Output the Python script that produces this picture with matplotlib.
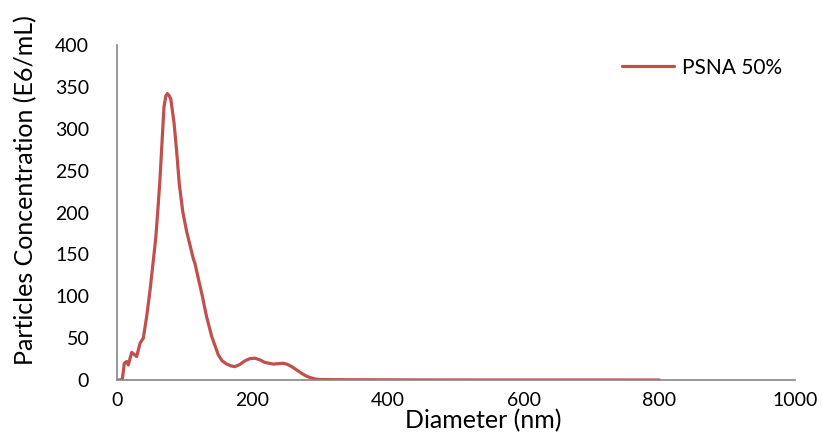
import matplotlib
matplotlib.use("Agg")
import matplotlib.pyplot as plt

plt.rcParams['font.family'] = ['Lato', 'DejaVu Sans']

diameter = [0, 5, 7.8, 10.8, 14.3, 16.7, 21.7, 29, 34, 38.8, 43.8, 48.7, 53.6, 57, 60, 63.4,
            66, 69.3, 72, 74.2, 76.5, 79.2, 84, 88, 92, 97, 102.8, 108, 112.5, 115, 120, 125,
            132, 139.7, 149.4, 155, 161.8, 168, 174, 181, 188.8, 196, 203.5, 211, 218, 230.5,
            238, 245, 251, 257.7, 265, 272.4, 278, 284.7, 292, 300, 320, 350, 400, 450,
            500, 600, 700, 800]
concentration = [0, 0, 0.5, 20, 22, 18, 33, 28, 44, 50, 76, 107, 143, 168, 200, 240,
                 278, 326, 339, 342, 340, 336, 308, 273, 233, 201, 177, 160, 145, 139, 121, 103.5,
                 76, 52, 30, 23, 19, 16.8, 16, 18.5, 23, 25.5, 26, 24, 21, 19,
                 19.5, 20, 18.8, 16, 12, 8, 5.2, 3, 1.2, 0.6, 0.4, 0.3, 0.2, 0.1,
                 0.05, 0.02, 0.01, 0]
series_name = "PSNA 50%"
x_ticks = [0, 200, 400, 600, 800, 1000]
y_ticks = [0, 50, 100, 150, 200, 250, 300, 350, 400]

fig = plt.figure(figsize=(8.23, 4.37), dpi=100)
ax = fig.add_axes([117 / 823, 1 - 380 / 437, 678 / 823, 335 / 437])
ax.plot(diameter, concentration, color='#C0504D', lw=2.3, label=series_name,
        solid_joinstyle='round', solid_capstyle='round')
ax.set_xlim(0, 1000)
ax.set_ylim(0, 400)
ax.set_xticks(x_ticks)
ax.set_yticks(y_ticks)
ax.tick_params(length=0, labelsize=14)
ax.tick_params(axis='y', pad=20)
ax.tick_params(axis='x', pad=9)
for s in ['top', 'right']:
    ax.spines[s].set_visible(False)
for s in ['left', 'bottom']:
    ax.spines[s].set_color('#868686')
    ax.spines[s].set_linewidth(1.2)
ax.set_xlabel("Diameter (nm)", fontsize=18)
ax.xaxis.set_label_coords(0.54, -0.088)
ax.set_ylabel("Particles Concentration (E6/mL)", fontsize=18)
ax.yaxis.set_label_coords(-0.118, 0.566)
leg = ax.legend(loc='upper right', bbox_to_anchor=(1.0, 1.0), frameon=False, fontsize=15,
                handlelength=2.5, handletextpad=0.4, borderaxespad=0.2)
fig.savefig("out.png", dpi=100)
